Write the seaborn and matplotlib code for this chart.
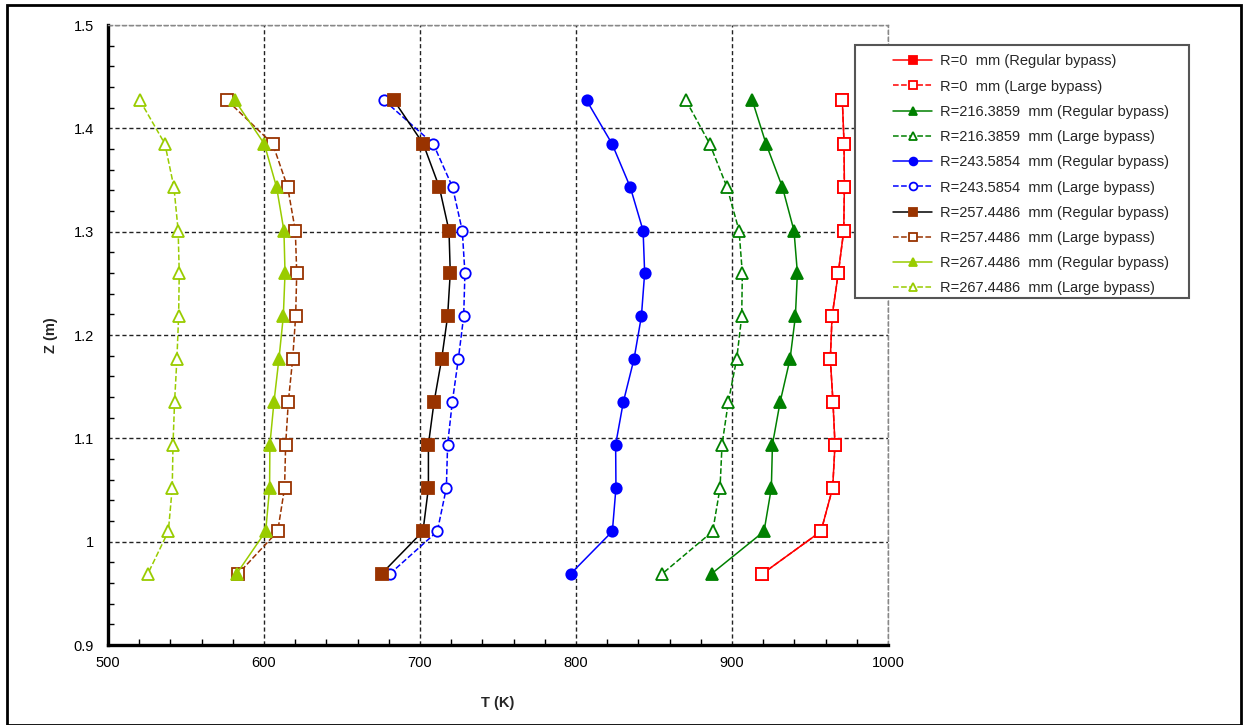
import numpy as np
import pandas as pd
import seaborn as sns
import matplotlib.pyplot as plt
from matplotlib.patches import Rectangle
from matplotlib.ticker import MultipleLocator, FormatStrFormatter

# heights (m) of the measurement points
z = [1.427, 1.385, 1.343, 1.301, 1.260, 1.218, 1.177, 1.135, 1.094, 1.052, 1.010, 0.969]

# temperatures (K) per radius, regular / large bypass
t_r0_reg = [970.7, 971.8, 972.0, 971.6, 968.1, 964.1, 963.0, 964.7, 966.0, 964.5, 957.0, 919.5]
t_r0_large = [970.7, 971.8, 972.0, 971.6, 968.1, 964.1, 963.0, 964.7, 966.0, 964.5, 957.0, 919.5]
t_r216_reg = [913.0, 921.8, 932.3, 939.7, 941.9, 940.6, 937.2, 930.8, 925.9, 925.2, 920.5, 886.9]
t_r216_large = [870.5, 885.7, 896.8, 904.5, 906.6, 906.2, 903.0, 897.6, 893.6, 892.3, 887.6, 855.3]
t_r243_reg = [806.8, 823.1, 834.8, 843.0, 844.0, 841.9, 837.2, 830.3, 825.4, 825.6, 823.3, 796.6]
t_r243_large = [677.1, 708.5, 720.9, 727.1, 728.8, 728.0, 724.6, 720.7, 717.7, 716.9, 711.1, 680.8]
t_r257_reg = [683.3, 702.1, 712.4, 718.6, 719.4, 717.7, 713.9, 709.0, 705.4, 705.4, 701.9, 675.4]
t_r257_large = [576.5, 605.6, 615.2, 620.1, 621.0, 620.3, 618.4, 615.6, 613.9, 613.2, 608.8, 583.5]
t_r267_reg = [581.4, 600.2, 608.1, 612.8, 613.5, 612.4, 609.6, 606.4, 603.8, 603.6, 601.1, 582.5]
t_r267_large = [520.5, 536.5, 542.3, 545.0, 545.7, 545.3, 544.2, 542.7, 541.7, 541.2, 538.7, 525.6]

labels = ['R=0  mm (Regular bypass)', 'R=0  mm (Large bypass)',
          'R=216.3859  mm (Regular bypass)', 'R=216.3859  mm (Large bypass)',
          'R=243.5854  mm (Regular bypass)', 'R=243.5854  mm (Large bypass)',
          'R=257.4486  mm (Regular bypass)', 'R=257.4486  mm (Large bypass)',
          'R=267.4486  mm (Regular bypass)', 'R=267.4486  mm (Large bypass)']

sns.set_style('white')
plt.rcParams['font.family'] = ['Liberation Sans', 'DejaVu Sans']

fig = plt.figure(figsize=(12.45, 7.25), dpi=100)
ax = fig.add_axes([0.0867, 0.1103, 0.6266, 0.8552])

series = [
    (t_r0_reg, labels[0], 'red', 's', 'red', 'red', '-'),
    (t_r0_large, labels[1], 'red', 's', 'white', 'red', '--'),
    (t_r216_reg, labels[2], 'green', '^', 'green', 'green', '-'),
    (t_r216_large, labels[3], 'green', '^', 'white', 'green', '--'),
    (t_r243_reg, labels[4], 'blue', 'o', 'blue', 'blue', '-'),
    (t_r243_large, labels[5], 'blue', 'o', 'white', 'blue', '--'),
    (t_r257_reg, labels[6], 'black', 's', '#993300', '#993300', '-'),
    (t_r257_large, labels[7], '#993300', 's', 'white', '#993300', '--'),
    (t_r267_reg, labels[8], '#99CC00', '^', '#99CC00', '#99CC00', '-'),
    (t_r267_large, labels[9], '#99CC00', '^', 'white', '#99CC00', '--'),
]

for t, lab, col, mk, fc, ec, ls in series:
    df = pd.DataFrame({'T': t, 'Z': z})
    extra = {'dashes': (3, 2)} if ls == '--' else {}
    sns.lineplot(data=df, x='T', y='Z', sort=False, estimator=None, ax=ax,
                 color=col, label=lab, linewidth=1.1, linestyle=ls,
                 marker=mk, markersize=8 if mk != 'o' else 7.5,
                 markerfacecolor=fc, markeredgecolor=ec,
                 markeredgewidth=1.3, **extra)

ax.set_xlim(500, 1000)
ax.set_ylim(0.9, 1.5)
ax.xaxis.set_major_locator(MultipleLocator(100))
ax.xaxis.set_minor_locator(MultipleLocator(20))
ax.yaxis.set_major_locator(MultipleLocator(0.1))
ax.yaxis.set_minor_locator(MultipleLocator(0.02))
ax.yaxis.set_major_formatter(FormatStrFormatter('%g'))

ax.grid(True, which='major', color='#222222', linestyle=(0, (3, 2)), linewidth=1.0)
ax.tick_params(which='both', direction='in', colors='black', labelsize=10.5)
ax.tick_params(which='major', length=6, width=1)
ax.tick_params(which='minor', length=4, width=1, left=True, bottom=True)
ax.tick_params(axis='y', pad=10)
ax.tick_params(axis='x', pad=8)

for side in ['left', 'bottom']:
    ax.spines[side].set_linewidth(2.4)
    ax.spines[side].set_color('black')
for side in ['top', 'right']:
    ax.spines[side].set_linestyle((0, (3, 2)))
    ax.spines[side].set_color('#888888')
    ax.spines[side].set_linewidth(1.0)

ax.set_xlabel('T (K)', fontsize=10.5, fontweight='bold')
ax.set_ylabel('Z (m)', fontsize=10.5, fontweight='bold')
ax.xaxis.set_label_coords(0.5, -0.083)
ax.yaxis.set_label_coords(-0.064, 0.5)

# legend box: white panel drawn separately, entries placed inside it
box = Rectangle((0.6867, 0.589), 0.2683, 0.349, transform=fig.transFigure,
                facecolor='white', edgecolor='#555555', linewidth=1.5,
                zorder=4.9, clip_on=False)
ax.add_artist(box)
leg = ax.legend(loc='upper left', bbox_to_anchor=(0.7173, 0.925),
                bbox_transform=fig.transFigure, fontsize=10.5, frameon=False,
                handlelength=2.7, labelspacing=0.77, borderpad=0,
                handletextpad=0.55, borderaxespad=0, markerscale=0.75)
leg.set_zorder(5)

fig.patches.append(Rectangle((0.0056, 0.0), 0.9915, 0.993, transform=fig.transFigure,
                             fill=False, edgecolor='black', linewidth=2, zorder=10))

fig.savefig('out.png', dpi=100)
